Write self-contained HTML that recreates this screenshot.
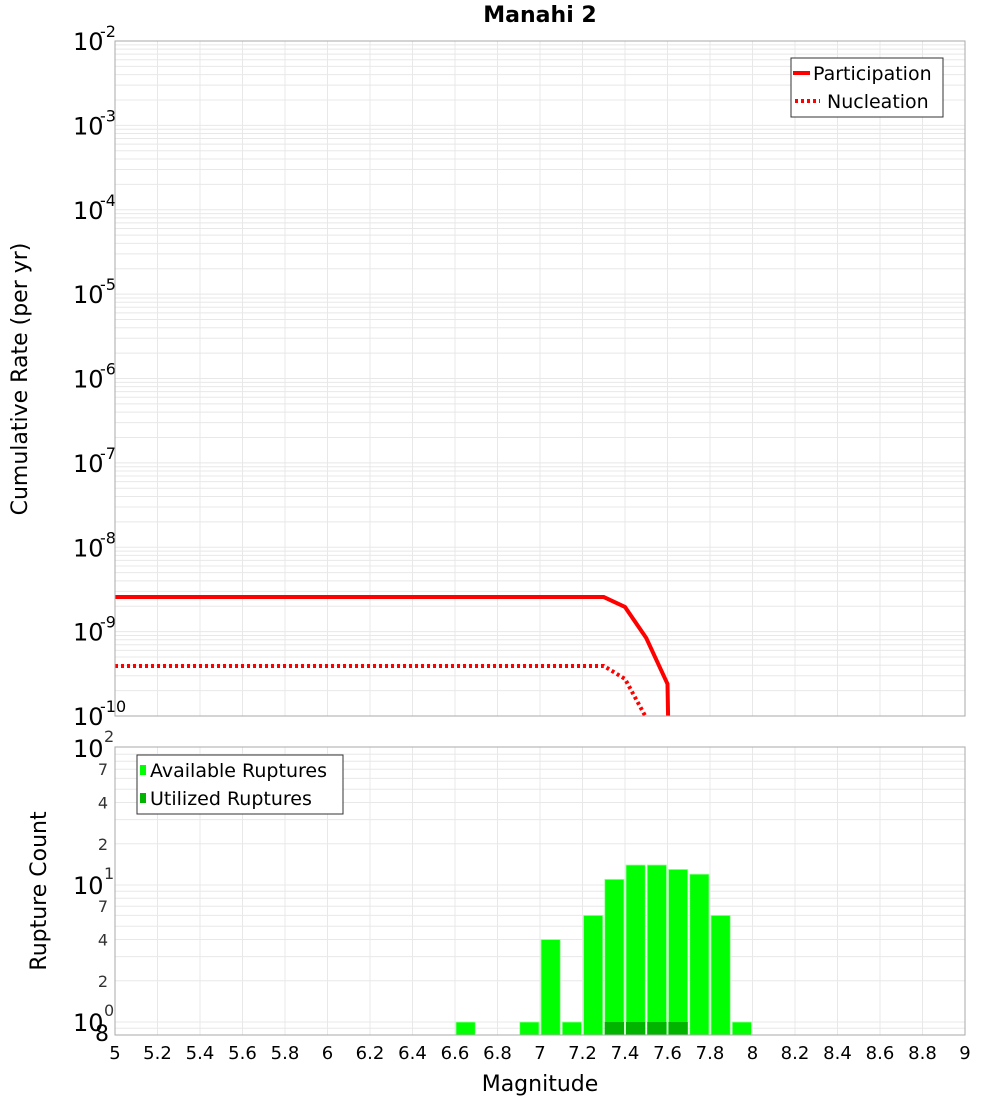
<!DOCTYPE html>
<html><head><meta charset="utf-8"><style>
body{margin:0;background:#fff;}
svg{display:block;font-family:"DejaVu Sans","Liberation Sans",sans-serif;}
</style></head><body>
<svg id="chart" width="1000" height="1100" xmlns="http://www.w3.org/2000/svg">
<text x="540" y="22" text-anchor="middle" font-size="22" font-weight="bold">Manahi 2</text>
<g id="topPlot"></g>
<g id="botPlot"></g>
<text transform="translate(27,379) rotate(-90)" text-anchor="middle" font-size="22">Cumulative Rate (per yr)</text>
<text transform="translate(46,891) rotate(-90)" text-anchor="middle" font-size="22">Rupture Count</text>
<text x="540" y="1091" text-anchor="middle" font-size="22">Magnitude</text>
</svg>
<script>
const partMags=[5.0,7.3,7.4,7.5,7.6,7.61];
const partRates=[2.57e-9,2.57e-9,1.96e-9,8.4e-10,2.4e-10,1e-11];
const nuclMags=[5.0,7.3,7.4,7.5,7.6];
const nuclRates=[3.92e-10,3.92e-10,2.75e-10,9.5e-11,2e-11];
const binCenters=[6.65,6.95,7.05,7.15,7.25,7.35,7.45,7.55,7.65,7.75,7.85,7.95];
const availCounts=[1,1,4,1,6,11,14,14,13,12,6,1];
const utilCounts=[0,0,0,0,0,1,1,1,1,0,0,0];
const xTicks=[5,5.2,5.4,5.6,5.8,6,6.2,6.4,6.6,6.8,7,7.2,7.4,7.6,7.8,8,8.2,8.4,8.6,8.8,9];
const topExps=[-2,-3,-4,-5,-6,-7,-8,-9,-10];
const botMinor=[2,4,7];

const NS="http://www.w3.org/2000/svg";
const L=115,R=965;
const xs=m=>L+(m-5)*(R-L)/4;
const T0=41,T1=716,yt=v=>T0+(-2-Math.log10(v))*(T1-T0)/8;
const B0=747,B1=1035,yb=v=>1022-137*Math.log10(v);
function mk(p,tag,a){const e=document.createElementNS(NS,tag);for(const k in a)e.setAttribute(k,a[k]);p.appendChild(e);return e;}
const topG=document.getElementById('topPlot'),botG=document.getElementById('botPlot');
const cpT=mk(topG,'clipPath',{id:'ct'});mk(cpT,'rect',{x:L,y:T0,width:R-L,height:T1-T0});
const cpB=mk(botG,'clipPath',{id:'cb'});mk(cpB,'rect',{x:L,y:B0,width:R-L,height:B1-B0});
for(let d=-10;d<-2;d++)for(let k=1;k<10;k++){const y=yt(k*Math.pow(10,d));const g=mk(topG,'line',{x1:L,x2:R,y1:y,y2:y,stroke:'#e8e8e8','stroke-width':1});

}
for(let d=-1;d<2;d++)for(let k=1;k<10;k++){const y=yb(k*Math.pow(10,d));if(y<B0||y>B1)continue;const g=mk(botG,'line',{x1:L,x2:R,y1:y,y2:y,stroke:'#e8e8e8','stroke-width':1});

}
xTicks.forEach(t=>{const x=xs(t);
const g1=mk(topG,'line',{x1:x,x2:x,y1:T0,y2:T1,stroke:'#e8e8e8'});


const g2=mk(botG,'line',{x1:x,x2:x,y1:B0,y2:B1,stroke:'#e8e8e8'});


const tl=mk(botG,'text',{x:x,y:1059,'text-anchor':'middle','font-size':18});tl.textContent=String(t);

});
topExps.forEach(e=>{const y=yt(Math.pow(10,e));const t=mk(topG,'text',{x:73,y:y+9,'font-size':24});t.textContent='10';


const s=mk(topG,'text',{x:100,y:y-4,'font-size':16});s.textContent=String(e);

});
[0,1,2].forEach(e=>{const y=yb(Math.pow(10,e));const t=mk(botG,'text',{x:73,y:y+9,'font-size':24});t.textContent='10';


const s=mk(botG,'text',{x:104,y:y-6,'font-size':16,fill:'#333'});s.textContent=String(e);

});
[0,1].forEach(d=>botMinor.forEach(k=>{const y=yb(k*Math.pow(10,d));const t=mk(botG,'text',{x:103,y:y+6,'font-size':16,'text-anchor':'middle',fill:'#333'});t.textContent=String(k);

}));
{const t=mk(botG,'text',{x:102,y:1041,'font-size':22,'text-anchor':'middle'});t.textContent='8';

}
const gl=mk(topG,'g',{'clip-path':'url(#ct)'});
const p1=mk(gl,'polyline',{points:partMags.map((m,i)=>xs(m)+','+yt(partRates[i])).join(' '),fill:'none',stroke:'#ff0000','stroke-width':4});


const p2=mk(gl,'polyline',{points:nuclMags.map((m,i)=>xs(m)+','+yt(nuclRates[i])).join(' '),fill:'none',stroke:'#ff0000','stroke-width':4,'stroke-dasharray':'3 3'});


const gb=mk(botG,'g',{'clip-path':'url(#cb)'});
const bw=(R-L)/40;
binCenters.forEach((c,i)=>{const x=xs(c)-bw/2+1;const y=yb(availCounts[i]);
const b=mk(gb,'rect',{x:x,y:y,width:bw-2,height:B1-y,fill:'#00ff00',stroke:'#a0ffa0','stroke-width':0.8});


if(utilCounts[i]>0){const yu=yb(utilCounts[i]);const u=mk(gb,'rect',{x:x,y:yu,width:bw-2,height:B1-yu,fill:'#00b400'});

}});
const f1=mk(topG,'rect',{x:L,y:T0,width:R-L,height:T1-T0,fill:'none',stroke:'#aaa'});


const f2=mk(botG,'rect',{x:L,y:B0,width:R-L,height:B1-B0,fill:'none',stroke:'#aaa'});


const lg1=mk(topG,'g',{});


mk(lg1,'rect',{x:791,y:58,width:152,height:59,fill:'#fff',stroke:'#333'});
mk(lg1,'line',{x1:793,x2:810,y1:73,y2:73,stroke:'#f00','stroke-width':4});
mk(lg1,'line',{x1:795,x2:820,y1:101,y2:101,stroke:'#f00','stroke-width':4,'stroke-dasharray':'3 3'});
let tx=mk(lg1,'text',{x:813,y:80,'font-size':19});tx.textContent='Participation';
tx=mk(lg1,'text',{x:827,y:108,'font-size':19});tx.textContent='Nucleation';
const lg2=mk(botG,'g',{});


mk(lg2,'rect',{x:137,y:755,width:206,height:59,fill:'#fff',stroke:'#333'});
mk(lg2,'rect',{x:140,y:765,width:6,height:10,fill:'#00ff00'});
mk(lg2,'rect',{x:140,y:793,width:6,height:10,fill:'#00b400'});
tx=mk(lg2,'text',{x:150,y:777,'font-size':19});tx.textContent='Available Ruptures';
tx=mk(lg2,'text',{x:150,y:805,'font-size':19});tx.textContent='Utilized Ruptures';
</script>
</body></html>
